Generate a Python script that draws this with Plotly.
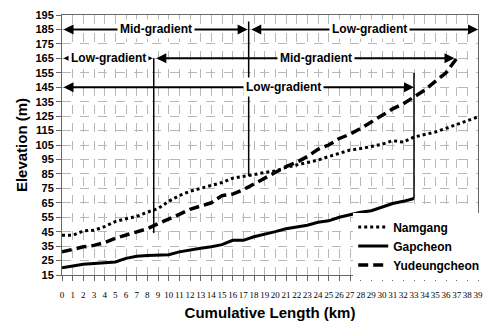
import plotly.graph_objects as go

km_namgang = list(range(0, 40))
namgang = [42.5, 42.5, 45.5, 46, 48.5, 52, 54, 55.5, 58.5, 61, 66, 70, 73, 75, 77, 79, 82, 83, 84.5, 86,
           87, 89.5, 91, 92.5, 94.5, 97, 99.5, 101.5, 102.5, 104, 105.5, 108, 107, 110.5, 112, 114, 116.5, 119, 121.5, 124.5]
km_gapcheon = list(range(0, 34))
gapcheon = [20, 21.5, 22.5, 23, 23.5, 24, 26.5, 28, 28.5, 28.5, 29, 31, 32.5, 33.5, 34.5, 36, 39, 39, 41.5, 43,
            45, 47, 48, 49.5, 51.5, 52.5, 55, 57, 58.5, 59.5, 62, 64.5, 66, 68]
km_yudeung = list(range(0, 38))
yudeung = [31, 33, 34.5, 35.5, 37.5, 40.5, 42.5, 44.5, 47, 50.5, 53.5, 57, 60.5, 63, 65, 70, 71, 74, 78, 82,
           86, 90, 93, 97, 102, 105, 109.5, 112.5, 116.5, 121, 125, 130, 133.5, 138, 143, 149, 155, 165]

x_ticks = list(range(0, 40))
y_ticks = list(range(15, 196, 10))

# gradient segments: (label, x_start, x_end, elevation, label_x)
segments = [
    ("Mid-gradient", 0, 17.4, 185, 8.8),
    ("Low-gradient", 17.6, 39, 185, 28.8),
    ("Low-gradient", 0, 8.5, 165, 4.4),
    ("Mid-gradient", 8.7, 36.8, 165, 23.8),
    ("Low-gradient", 0, 33, 145, 20.8),
]
# vertical boundary lines: (x, y_bottom, y_top)
boundaries = [(8.6, 44, 165), (17.5, 83.5, 190.5), (33, 68, 155)]

fig = go.Figure()
fig.add_trace(go.Scatter(x=km_namgang, y=namgang, name="Namgang", mode="lines",
                         line=dict(color="black", width=3, dash="dot")))
fig.add_trace(go.Scatter(x=km_gapcheon, y=gapcheon, name="Gapcheon", mode="lines",
                         line=dict(color="black", width=3)))
fig.add_trace(go.Scatter(x=km_yudeung, y=yudeung, name="Yudeungcheon", mode="lines",
                         line=dict(color="black", width=3.5, dash="10px,5px")))

for xb, y0, y1 in boundaries:
    fig.add_shape(type="line", x0=xb, x1=xb, y0=y0, y1=y1, xref="x", yref="y",
                  line=dict(color="black", width=1.5))

for label, xs, xe, yv, lx in segments:
    fig.add_annotation(x=xe, y=yv, ax=xs, ay=yv, xref="x", yref="y", axref="x", ayref="y",
                       text="", showarrow=True, arrowhead=2, startarrowhead=2, arrowside="end+start",
                       arrowsize=1, startarrowsize=1, arrowwidth=2, arrowcolor="black", standoff=0, startstandoff=0)
    fig.add_annotation(x=lx, y=yv, xref="x", yref="y", text="<b>" + label + "</b>", showarrow=False,
                       bgcolor="white", font=dict(family="Liberation Sans", size=12, color="black"),
                       borderpad=2)

fig.update_layout(
    width=488, height=324,
    margin=dict(l=62, r=3, t=15, b=49),
    paper_bgcolor="white", plot_bgcolor="white",
    showlegend=True,
    legend=dict(x=0.70, y=0.24, xanchor="left", yanchor="top", bgcolor="white",
                font=dict(family="Liberation Sans", size=12, color="black", weight="bold"),
                tracegroupgap=0, itemwidth=30),
    xaxis=dict(range=[0, 39], tickmode="array", tickvals=x_ticks, ticktext=[str(v) for v in x_ticks],
               showgrid=True, gridcolor="#b8b8b8", griddash="dash", gridwidth=1,
               showline=True, linecolor="#666", linewidth=1, mirror=True,
               ticks="outside", ticklen=5, tickcolor="#666",
               tickfont=dict(family="Liberation Serif", size=9, color="black"),
               tickangle=0, zeroline=False, ticklabelstandoff=6,
               title=dict(text="<b>Cumulative Length (km)</b>", standoff=8,
                          font=dict(family="Liberation Sans", size=15, color="black"))),
    yaxis=dict(range=[15, 195], tickmode="array", tickvals=y_ticks,
               showgrid=True, gridcolor="#b8b8b8", griddash="dash", gridwidth=1,
               showline=True, linecolor="#666", linewidth=1, mirror=True,
               ticks="outside", ticklen=5, tickcolor="#666",
               tickfont=dict(family="Liberation Sans", size=11, color="black", weight="bold"),
               zeroline=False,
               title=dict(text="<b>Elevation (m)</b>", standoff=4,
                          font=dict(family="Liberation Sans", size=15, color="black"))),
)

fig.write_html("out.html")
